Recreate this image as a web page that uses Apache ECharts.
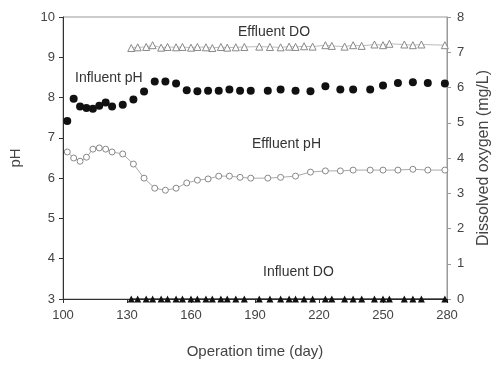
<!DOCTYPE html>
<html>
<head>
<meta charset="utf-8">
<script src="https://cdn.jsdelivr.net/npm/echarts@6/dist/echarts.min.js"></script>
<style>
html,body{margin:0;padding:0;background:#fff;}
#chart{width:496px;height:366px;}
</style>
</head>
<body>
<div id="chart"></div>
<script>
// pH 采样日
var phDays = [102,105,108,111,114,117,120,123,128,133,138,143,148,153,158,163,168,173,178,183,188,196,202,209,216,223,230,236,244,250,257,264,271,279];
var influentPH = [7.42,7.97,7.78,7.74,7.72,7.8,7.88,7.78,7.82,7.95,8.15,8.4,8.4,8.35,8.18,8.16,8.17,8.17,8.2,8.17,8.17,8.17,8.2,8.17,8.16,8.28,8.2,8.2,8.2,8.3,8.36,8.38,8.36,8.35];
var effluentPH = [6.65,6.5,6.42,6.52,6.72,6.75,6.72,6.65,6.6,6.35,6.0,5.75,5.7,5.75,5.88,5.95,5.98,6.05,6.05,6.02,6.0,6.0,6.02,6.05,6.15,6.18,6.18,6.2,6.2,6.2,6.2,6.22,6.2,6.2];
// DO 采样日
var doDays = [132,135,139,142,146,149,153,156,160,163,167,170,174,177,181,185,192,197,202,206,209,213,217,223,226,232,236,240,246,250,253,260,264,268,279];
var effluentDO = [7.12,7.14,7.15,7.2,7.13,7.15,7.14,7.15,7.13,7.15,7.14,7.12,7.15,7.13,7.14,7.15,7.16,7.15,7.14,7.16,7.15,7.17,7.16,7.2,7.18,7.16,7.2,7.18,7.22,7.2,7.24,7.22,7.2,7.22,7.2];
var influentDO = [0,0,0,0,0,0,0,0,0,0,0,0,0,0,0,0,0,0,0,0,0,0,0,0,0,0,0,0,0,0,0,0,0,0,0];
var xTicks = [100,130,160,190,220,250,280];

function pairs(xs, ys){
    return xs.map(function(x, i){ return [x, ys[i]]; });
}

var txt = {color:'#444', fontFamily:'Liberation Sans', fontSize:13};

var option = {
    backgroundColor:'#fff',
    animation:false,
    grid:{left:63, right:49, top:17, bottom:67, show:true, borderColor:'#999', borderWidth:1, outerBoundsMode:'none'},
    xAxis:{
        type:'value', min:xTicks[0], max:xTicks[xTicks.length-1], interval:30,
        name:'Operation time (day)', nameLocation:'middle', nameGap:45,
        nameTextStyle:{color:'#444', fontFamily:'Liberation Sans', fontSize:15},
        axisLine:{lineStyle:{color:'#333'}},
        axisTick:{show:true, length:4, lineStyle:{color:'#333'}},
        axisLabel:Object.assign({margin:10}, txt),
        splitLine:{show:false}
    },
    yAxis:[
        {
            type:'value', min:3, max:10, interval:1,
            name:'pH', nameLocation:'middle', nameGap:40,
            nameTextStyle:{color:'#444', fontFamily:'Liberation Sans', fontSize:15},
            axisLine:{show:true, lineStyle:{color:'#333'}},
            axisTick:{show:true, length:4, lineStyle:{color:'#333'}},
            axisLabel:Object.assign({margin:8}, txt),
            splitLine:{show:false}
        },
        {
            type:'value', min:0, max:8, interval:1,
            name:'Dissolved oxygen (mg/L)', nameLocation:'middle', nameGap:28,
            nameTextStyle:{color:'#444', fontFamily:'Liberation Sans', fontSize:16},
            axisLine:{show:true, lineStyle:{color:'#999'}},
            axisTick:{show:true, length:4, lineStyle:{color:'#999'}},
            axisLabel:Object.assign({margin:10}, txt),
            splitLine:{show:false}
        }
    ],
    series:[
        {
            name:'Influent pH', type:'line', yAxisIndex:0,
            data:pairs(phDays, influentPH),
            symbol:'circle', symbolSize:8, showAllSymbol:true,
            itemStyle:{color:'#111'},
            lineStyle:{width:0}
        },
        {
            name:'Effluent pH', type:'line', yAxisIndex:0,
            data:pairs(phDays, effluentPH),
            symbol:'circle', symbolSize:6, showAllSymbol:true,
            itemStyle:{color:'#fff', borderColor:'#888', borderWidth:1},
            lineStyle:{color:'#aaa', width:1}
        },
        {
            name:'Effluent DO', type:'line', yAxisIndex:1,
            data:pairs(doDays, effluentDO),
            symbol:'triangle', symbolSize:7, showAllSymbol:true,
            itemStyle:{color:'#fff', borderColor:'#888', borderWidth:1},
            lineStyle:{color:'#bbb', width:1}
        },
        {
            name:'Influent DO', type:'line', yAxisIndex:1,
            data:pairs(doDays, influentDO),
            symbol:'triangle', symbolSize:7, showAllSymbol:true,
            itemStyle:{color:'#111'},
            lineStyle:{color:'#111', width:1}
        }
    ],
    graphic:[
        {type:'text', left:75, top:71, style:{text:'Influent pH', fill:'#333', font:'14px Liberation Sans'}},
        {type:'text', left:238, top:25, style:{text:'Effluent DO', fill:'#333', font:'14px Liberation Sans'}},
        {type:'text', left:252, top:137, style:{text:'Effluent pH', fill:'#333', font:'14px Liberation Sans'}},
        {type:'text', left:263, top:265, style:{text:'Influent DO', fill:'#333', font:'14px Liberation Sans'}}
    ]
};
var myChart = echarts.init(document.getElementById('chart'));
myChart.setOption(option);
</script>
</body>
</html>
